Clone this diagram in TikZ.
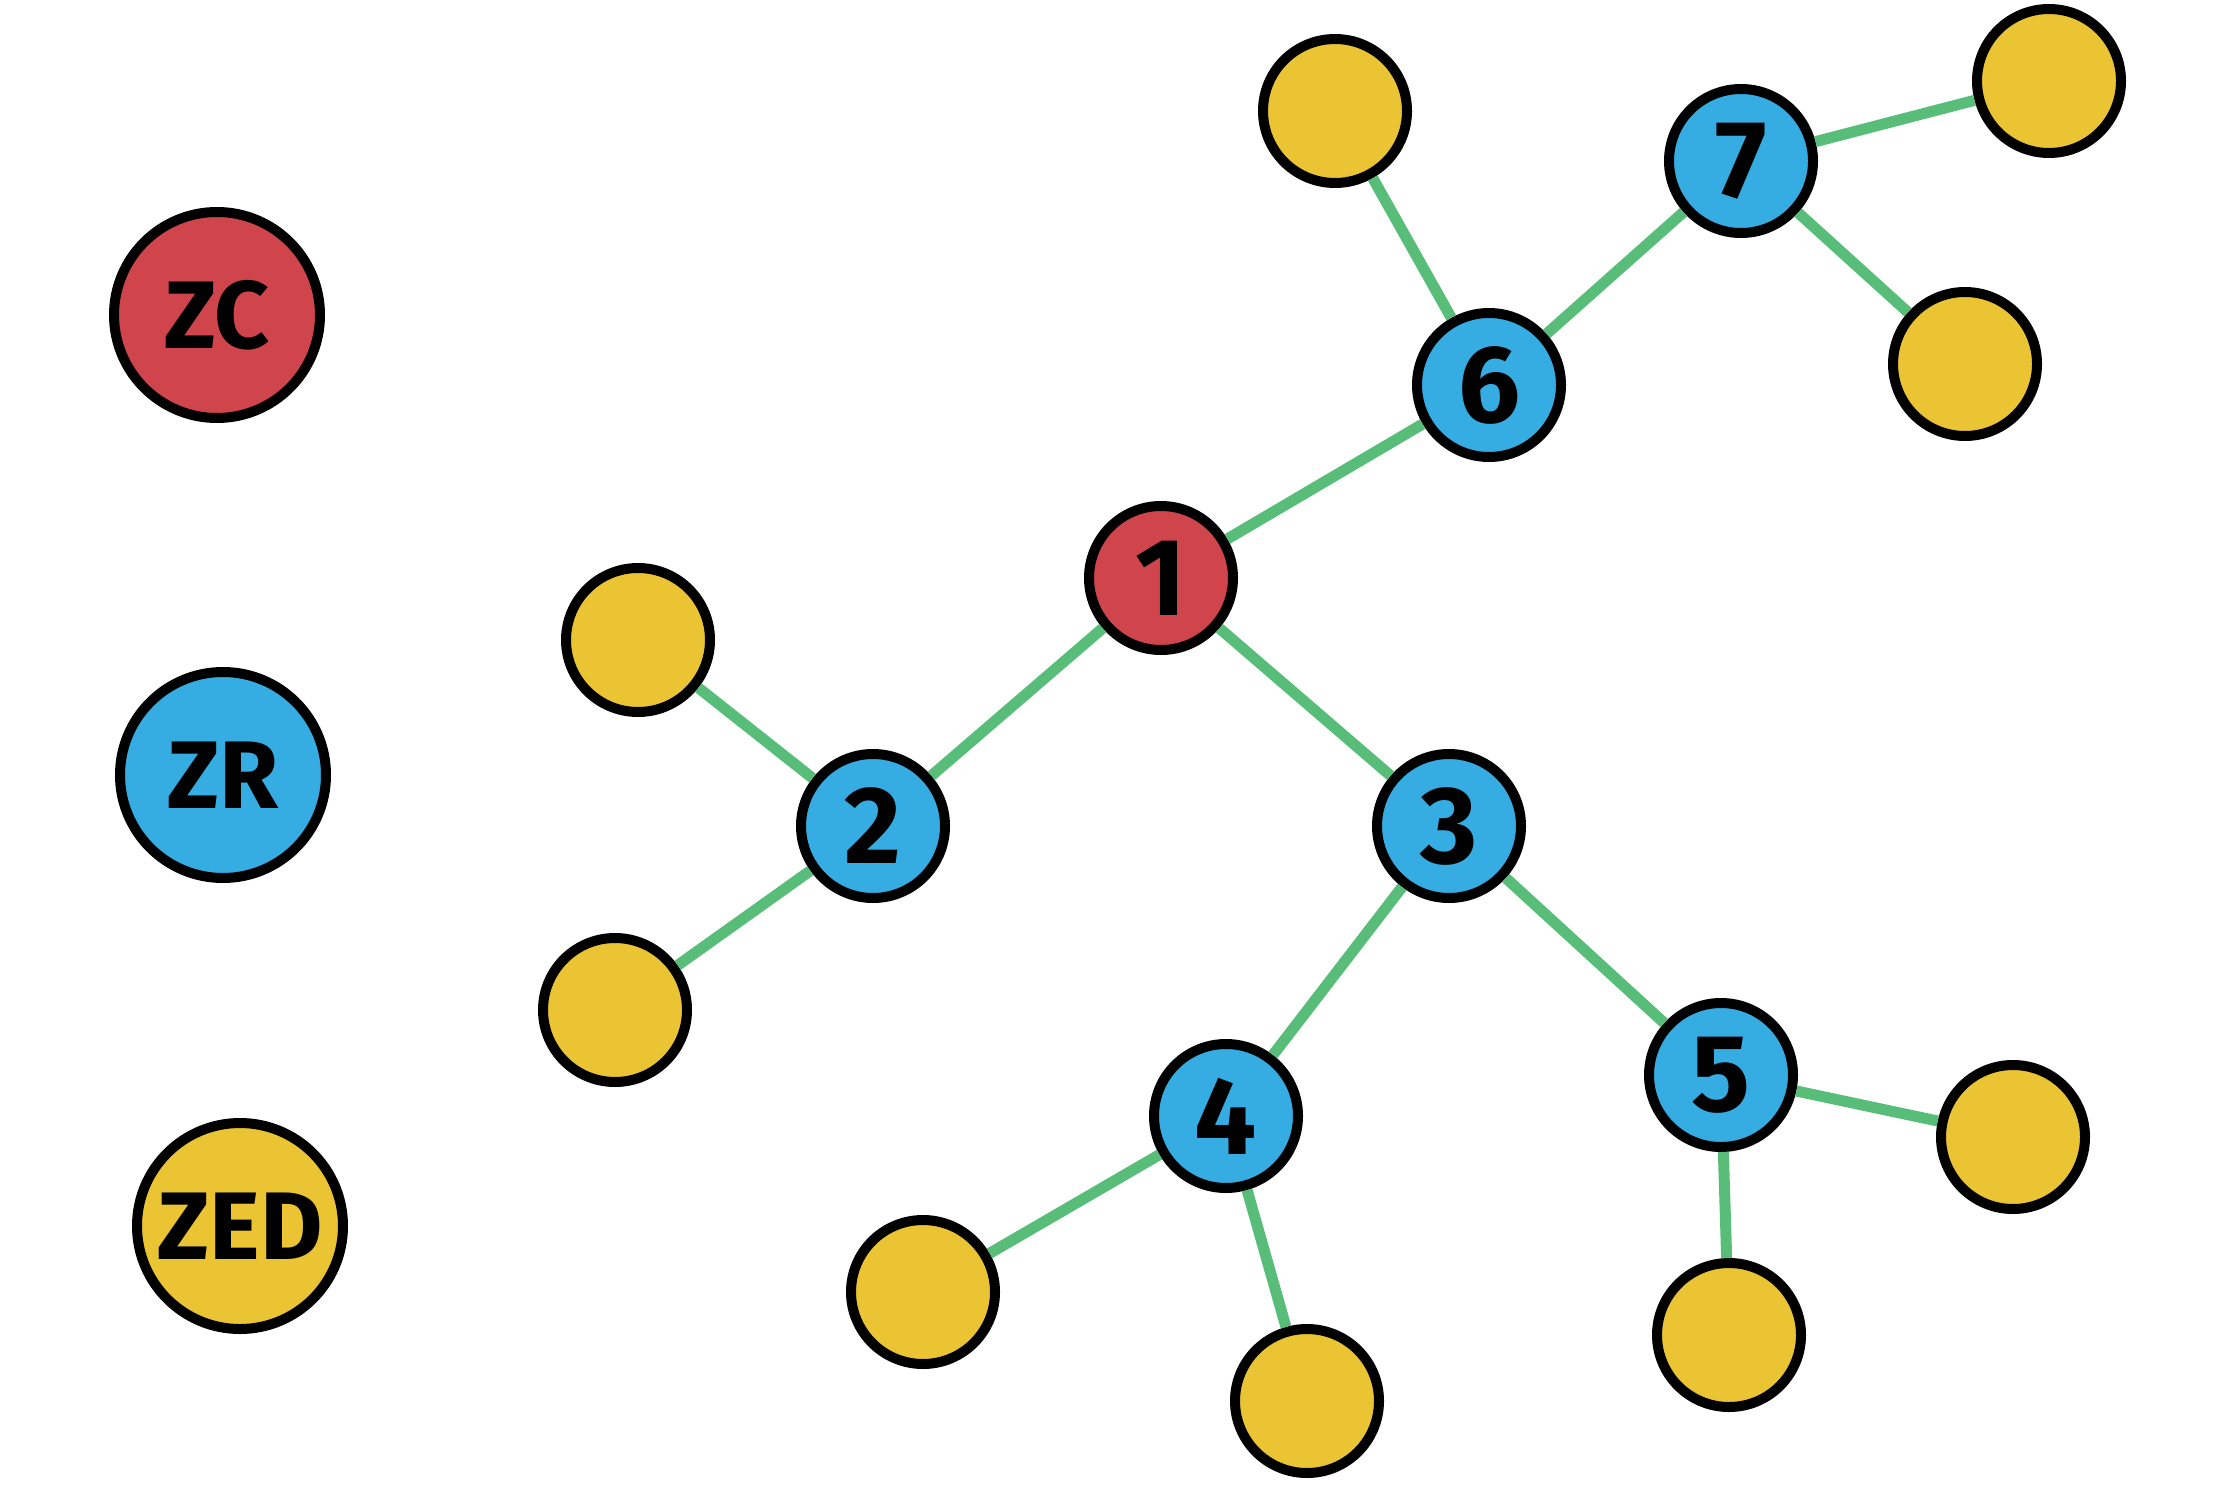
\documentclass[tikz,border=0pt]{standalone}
\usepackage{fontspec}
\setmainfont{Fira Sans}[BoldFont={* Bold}]
\definecolor{nred}{HTML}{D0454C}
\definecolor{nblue}{HTML}{35ACE2}
\definecolor{nyellow}{HTML}{EBC434}
\definecolor{ngreen}{HTML}{58BD78}
\tikzset{
  vtx/.style={circle, draw=black, line width=5pt, inner sep=0pt, minimum size=72pt,
    font=\bfseries\fontsize{55}{55}\selectfont},
  bigvtx/.style={circle, draw=black, line width=5pt, inner sep=0pt, minimum size=103pt,
    font=\bfseries\fontsize{48}{48}\selectfont},
  redf/.style={fill=nred},
  bluef/.style={fill=nblue},
  yellowf/.style={fill=nyellow},
  edge/.style={draw=ngreen, line width=5.5pt}
}
\begin{document}
\begin{tikzpicture}[x=0.5pt, y=-0.5pt]
\useasboundingbox (0,0) rectangle (2237,1498);
% legend
\node[bigvtx, redf] (zc) at (217,315) {ZC};
\node[bigvtx, bluef] (zr) at (223,775) {ZR};
\node[bigvtx, yellowf] (zed) at (240,1226) {ZED};
% main nodes
\node[vtx, redf] (n1) at (1161,578) {1};
\node[vtx, bluef] (n2) at (873,826) {2};
\node[vtx, bluef] (n3) at (1449,826) {3};
\node[vtx, bluef] (n4) at (1226,1116) {4};
\node[vtx, bluef] (n5) at (1721,1075) {5};
\node[vtx, bluef] (n6) at (1489,385) {6};
\node[vtx, bluef] (n7) at (1741,161) {7};
% leaves
\node[vtx, yellowf] (y6) at (1335,111) {};
\node[vtx, yellowf] (y7a) at (2049,81) {};
\node[vtx, yellowf] (y7b) at (1965,364) {};
\node[vtx, yellowf] (y2a) at (638,640) {};
\node[vtx, yellowf] (y2b) at (615,1010) {};
\node[vtx, yellowf] (y4a) at (923,1292) {};
\node[vtx, yellowf] (y4b) at (1307,1401) {};
\node[vtx, yellowf] (y5a) at (2013,1137) {};
\node[vtx, yellowf] (y5b) at (1729,1335) {};
% edges
\draw[edge] (n1) -- (n6);
\draw[edge] (n1) -- (n2);
\draw[edge] (n1) -- (n3);
\draw[edge] (n6) -- (y6);
\draw[edge] (n6) -- (n7);
\draw[edge] (n7) -- (y7a);
\draw[edge] (n7) -- (y7b);
\draw[edge] (n2) -- (y2a);
\draw[edge] (n2) -- (y2b);
\draw[edge] (n3) -- (n4);
\draw[edge] (n3) -- (n5);
\draw[edge] (n4) -- (y4a);
\draw[edge] (n4) -- (y4b);
\draw[edge] (n5) -- (y5a);
\draw[edge] (n5) -- (y5b);
\end{tikzpicture}
\end{document}
